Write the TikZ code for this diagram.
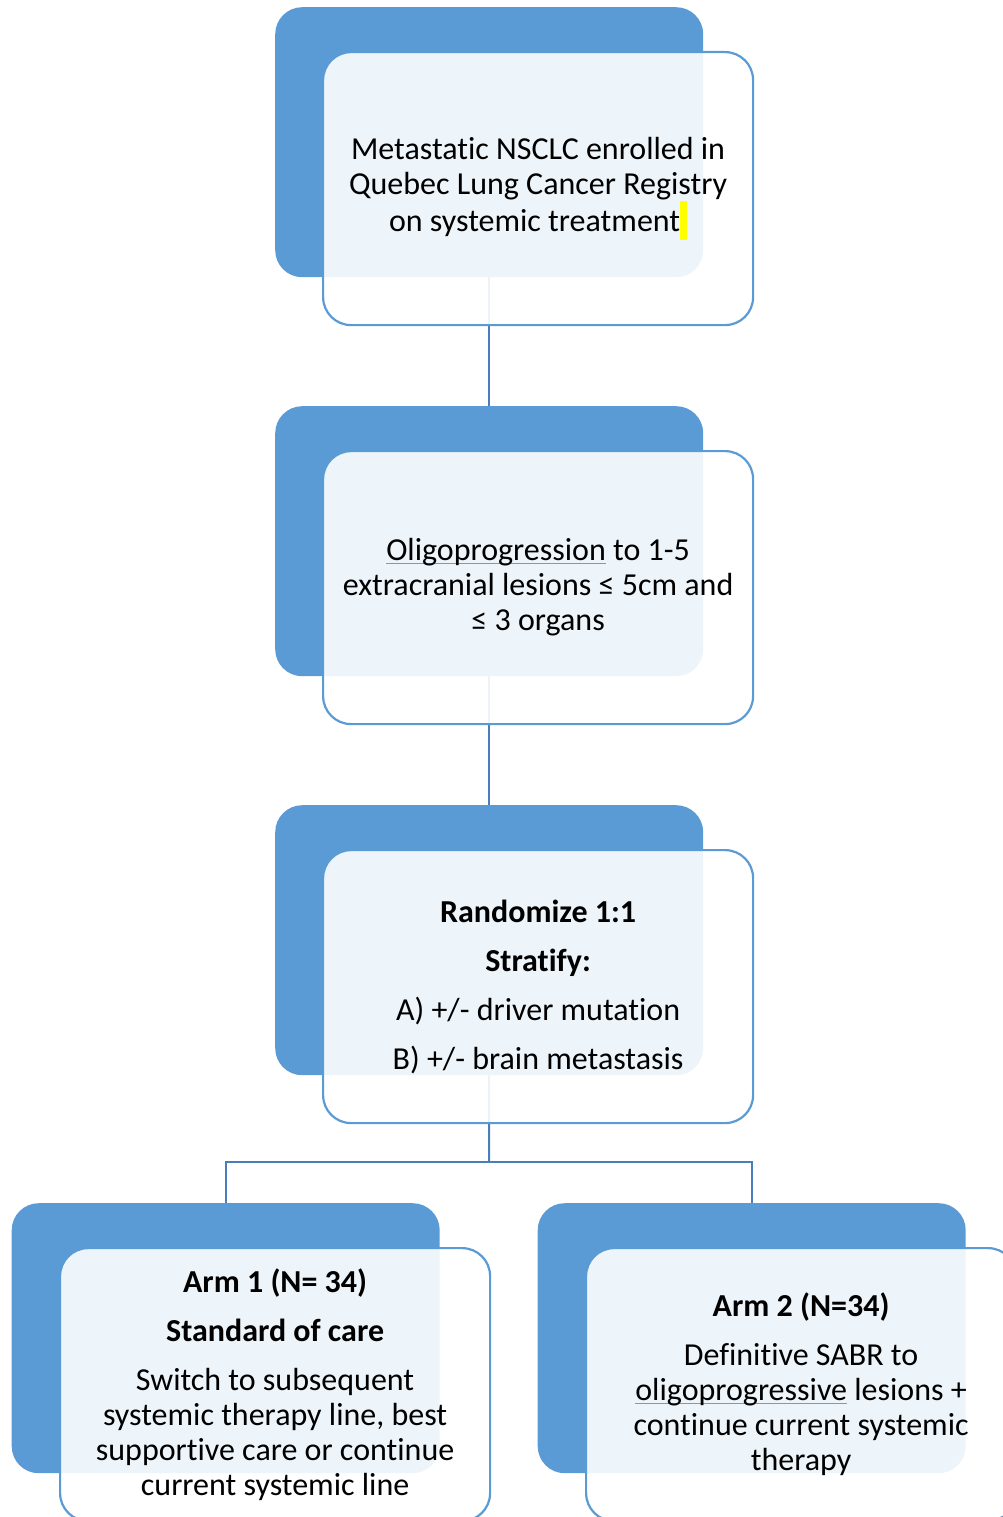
\documentclass[tikz,border=0pt]{standalone}
\usepackage{fontspec}
\setmainfont[Ligatures=NoCommon,RawFeature={-liga;-clig;-calt}]{Carlito}
\usetikzlibrary{backgrounds}
\definecolor{accent}{HTML}{5B9BD5}
\definecolor{linkc}{HTML}{4A7EBB}
\definecolor{spell}{HTML}{E57373}
\definecolor{hl}{HTML}{FFFF00}
\newcommand\spellmark[1]{\setbox0\hbox{#1}\rlap{\textcolor{spell}{\rule[-3pt]{\wd0}{0.9pt}}}\box0\relax}
\begin{document}
\begin{tikzpicture}[x=1pt,y=-1pt,
  backbox/.style={rectangle, rounded corners=27pt, fill=accent, minimum width=428pt, minimum height=270pt, inner sep=0pt, anchor=north west},
  frontbox/.style={rectangle, rounded corners=28pt, draw=accent, line width=2.2pt, fill=white, fill opacity=0.9, text opacity=1, minimum width=430pt, minimum height=273pt, inner sep=0pt, anchor=north west, align=center, font=\fontsize{32}{35}\selectfont},
  link/.style={draw=linkc, line width=2pt}]
\useasboundingbox (0,0) rectangle (1003,1517);
\clip (0,0) rectangle (1003,1517);
% back boxes
\node[backbox] (b1) at (275,7) {};
\node[backbox] (b2) at (275,406) {};
\node[backbox] (b3) at (275,805) {};
\node[backbox] (b4) at (11.5,1203) {};
\node[backbox] (b5) at (537.5,1203) {};
% front boxes
\node[frontbox] (f1) at (322,51) {Metastatic NSCLC enrolled in\\Quebec Lung Cancer Registry\\on systemic treatment{\color{hl}\rule[-8pt]{7pt}{39pt}}};
\node[frontbox] (f2) at (322,450) {\spellmark{Oligoprogression} to 1-5\\extracranial lesions ≤ 5cm and\\≤ 3 organs};
\node[frontbox] (f3) at (322,849) {\textbf{Randomize 1:1}\\[14pt]\textbf{Stratify:}\\[14pt]A) +/- driver mutation\\[14pt]B) +/- brain metastasis};
\node[frontbox] (f4) at (59,1247) {\textbf{Arm 1 (N= 34)}\\[14pt]\textbf{Standard of care}\\[14pt]Switch to subsequent\\systemic therapy line, best\\supportive care or continue\\current systemic line};
\node[frontbox] (f5) at (585,1247) {\textbf{Arm 2 (N=34)}\\[14pt]Definitive SABR to\\\spellmark{oligoprogressive} lesions +\\continue current systemic\\therapy};
\coordinate (j) at (489,1162);
\begin{pgfonlayer}{background}
\draw[link] (b1.south) -- (b2.north);
\draw[link] (b2.south) -- (b3.north);
\draw[link] (b3.south) -- (j);
\draw[link] (j) -| (b4.north);
\draw[link] (j) -| (b5.north);
\end{pgfonlayer}
\end{tikzpicture}
\end{document}
